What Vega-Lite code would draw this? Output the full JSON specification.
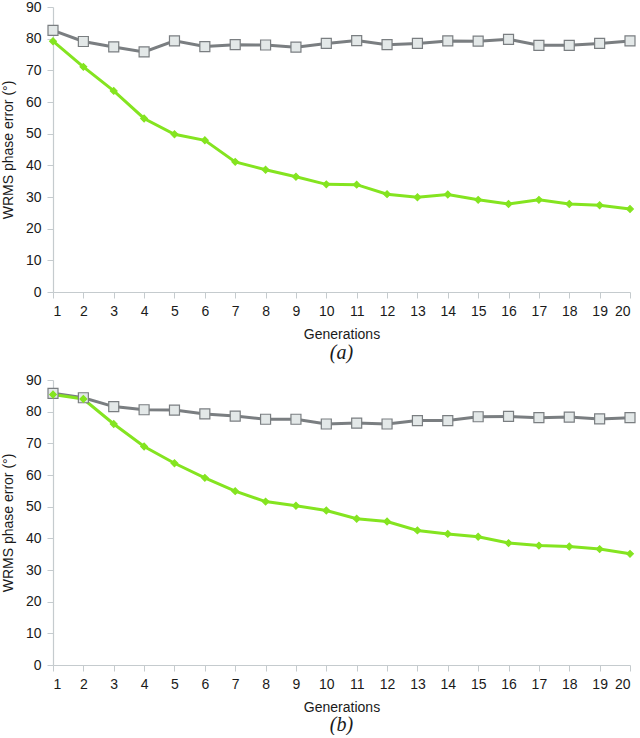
{
  "$schema": "https://vega.github.io/schema/vega-lite/v6.json",
  "padding": {"left": 1, "top": 0, "right": 5, "bottom": 0},
  "background": "white",
  "spacing": 10,
  "config": {
    "view": {"stroke": null},
    "font": "Liberation Sans",
    "axis": {
      "grid": false,
      "domainColor": "#c5cbce",
      "tickColor": "#c5cbce",
      "domainWidth": 1.2,
      "tickSize": 6,
      "labelFont": "Liberation Sans",
      "labelFontSize": 14,
      "labelColor": "#1a1a1a",
      "titleFont": "Liberation Sans",
      "titleFontSize": 14,
      "titleFontWeight": "normal",
      "titleColor": "#1a1a1a"
    }
  },
  "datasets": {
    "errors": [
      {"panel": "a", "gen": 1, "series": "Reference", "value": 82.6},
      {"panel": "a", "gen": 2, "series": "Reference", "value": 79.1},
      {"panel": "a", "gen": 3, "series": "Reference", "value": 77.4},
      {"panel": "a", "gen": 4, "series": "Reference", "value": 75.8},
      {"panel": "a", "gen": 5, "series": "Reference", "value": 79.3},
      {"panel": "a", "gen": 6, "series": "Reference", "value": 77.5},
      {"panel": "a", "gen": 7, "series": "Reference", "value": 78.1},
      {"panel": "a", "gen": 8, "series": "Reference", "value": 78.0},
      {"panel": "a", "gen": 9, "series": "Reference", "value": 77.3},
      {"panel": "a", "gen": 10, "series": "Reference", "value": 78.5},
      {"panel": "a", "gen": 11, "series": "Reference", "value": 79.4},
      {"panel": "a", "gen": 12, "series": "Reference", "value": 78.1},
      {"panel": "a", "gen": 13, "series": "Reference", "value": 78.5},
      {"panel": "a", "gen": 14, "series": "Reference", "value": 79.3},
      {"panel": "a", "gen": 15, "series": "Reference", "value": 79.2},
      {"panel": "a", "gen": 16, "series": "Reference", "value": 79.8},
      {"panel": "a", "gen": 17, "series": "Reference", "value": 77.9},
      {"panel": "a", "gen": 18, "series": "Reference", "value": 77.9},
      {"panel": "a", "gen": 19, "series": "Reference", "value": 78.5},
      {"panel": "a", "gen": 20, "series": "Reference", "value": 79.3},
      {"panel": "a", "gen": 1, "series": "Evolved", "value": 79.2},
      {"panel": "a", "gen": 2, "series": "Evolved", "value": 71.1},
      {"panel": "a", "gen": 3, "series": "Evolved", "value": 63.5},
      {"panel": "a", "gen": 4, "series": "Evolved", "value": 54.8},
      {"panel": "a", "gen": 5, "series": "Evolved", "value": 49.8},
      {"panel": "a", "gen": 6, "series": "Evolved", "value": 47.9},
      {"panel": "a", "gen": 7, "series": "Evolved", "value": 41.1},
      {"panel": "a", "gen": 8, "series": "Evolved", "value": 38.6},
      {"panel": "a", "gen": 9, "series": "Evolved", "value": 36.4},
      {"panel": "a", "gen": 10, "series": "Evolved", "value": 34.0},
      {"panel": "a", "gen": 11, "series": "Evolved", "value": 33.9},
      {"panel": "a", "gen": 12, "series": "Evolved", "value": 30.9},
      {"panel": "a", "gen": 13, "series": "Evolved", "value": 29.9},
      {"panel": "a", "gen": 14, "series": "Evolved", "value": 30.8},
      {"panel": "a", "gen": 15, "series": "Evolved", "value": 29.1},
      {"panel": "a", "gen": 16, "series": "Evolved", "value": 27.8},
      {"panel": "a", "gen": 17, "series": "Evolved", "value": 29.1},
      {"panel": "a", "gen": 18, "series": "Evolved", "value": 27.8},
      {"panel": "a", "gen": 19, "series": "Evolved", "value": 27.4},
      {"panel": "a", "gen": 20, "series": "Evolved", "value": 26.2},
      {"panel": "b", "gen": 1, "series": "Reference", "value": 85.8},
      {"panel": "b", "gen": 2, "series": "Reference", "value": 84.4},
      {"panel": "b", "gen": 3, "series": "Reference", "value": 81.6},
      {"panel": "b", "gen": 4, "series": "Reference", "value": 80.6},
      {"panel": "b", "gen": 5, "series": "Reference", "value": 80.5},
      {"panel": "b", "gen": 6, "series": "Reference", "value": 79.3},
      {"panel": "b", "gen": 7, "series": "Reference", "value": 78.6},
      {"panel": "b", "gen": 8, "series": "Reference", "value": 77.6},
      {"panel": "b", "gen": 9, "series": "Reference", "value": 77.6},
      {"panel": "b", "gen": 10, "series": "Reference", "value": 76.1},
      {"panel": "b", "gen": 11, "series": "Reference", "value": 76.4},
      {"panel": "b", "gen": 12, "series": "Reference", "value": 76.1},
      {"panel": "b", "gen": 13, "series": "Reference", "value": 77.2},
      {"panel": "b", "gen": 14, "series": "Reference", "value": 77.2},
      {"panel": "b", "gen": 15, "series": "Reference", "value": 78.4},
      {"panel": "b", "gen": 16, "series": "Reference", "value": 78.5},
      {"panel": "b", "gen": 17, "series": "Reference", "value": 78.1},
      {"panel": "b", "gen": 18, "series": "Reference", "value": 78.3},
      {"panel": "b", "gen": 19, "series": "Reference", "value": 77.7},
      {"panel": "b", "gen": 20, "series": "Reference", "value": 78.1},
      {"panel": "b", "gen": 1, "series": "Evolved", "value": 85.4},
      {"panel": "b", "gen": 2, "series": "Evolved", "value": 84.0},
      {"panel": "b", "gen": 3, "series": "Evolved", "value": 76.1},
      {"panel": "b", "gen": 4, "series": "Evolved", "value": 69.0},
      {"panel": "b", "gen": 5, "series": "Evolved", "value": 63.7},
      {"panel": "b", "gen": 6, "series": "Evolved", "value": 59.1},
      {"panel": "b", "gen": 7, "series": "Evolved", "value": 54.9},
      {"panel": "b", "gen": 8, "series": "Evolved", "value": 51.6},
      {"panel": "b", "gen": 9, "series": "Evolved", "value": 50.3},
      {"panel": "b", "gen": 10, "series": "Evolved", "value": 48.8},
      {"panel": "b", "gen": 11, "series": "Evolved", "value": 46.2},
      {"panel": "b", "gen": 12, "series": "Evolved", "value": 45.3},
      {"panel": "b", "gen": 13, "series": "Evolved", "value": 42.5},
      {"panel": "b", "gen": 14, "series": "Evolved", "value": 41.4},
      {"panel": "b", "gen": 15, "series": "Evolved", "value": 40.5},
      {"panel": "b", "gen": 16, "series": "Evolved", "value": 38.5},
      {"panel": "b", "gen": 17, "series": "Evolved", "value": 37.7},
      {"panel": "b", "gen": 18, "series": "Evolved", "value": 37.4},
      {"panel": "b", "gen": 19, "series": "Evolved", "value": 36.6},
      {"panel": "b", "gen": 20, "series": "Evolved", "value": 35.1}
    ]
  },
  "vconcat": [
    {
      "width": 577,
      "height": 285,
      "data": {"name": "errors"},
      "transform": [{"filter": "datum.panel == 'a'"}],
      "title": {"text": "(a)", "orient": "bottom", "anchor": "middle", "font": "Liberation Serif", "fontStyle": "italic", "fontWeight": "normal", "fontSize": 20, "color": "#1a1a1a", "offset": 2},
      "encoding": {
        "x": {"field": "gen", "type": "quantitative", "scale": {"domain": [1, 20], "nice": false, "zero": false}, "axis": {"values": [1,2,3,4,5,6,7,8,9,10,11,12,13,14,15,16,17,18,19,20], "title": "Generations", "labelPadding": 6, "titlePadding": 9}},
        "y": {"field": "value", "type": "quantitative", "scale": {"domain": [0, 90], "nice": false}, "axis": {"values": [0,10,20,30,40,50,60,70,80,90], "title": "WRMS phase error (°)", "labelPadding": 6, "titlePadding": 10}}
      },
      "layer": [
        {
          "mark": {"type": "line", "strokeWidth": 3},
          "encoding": {
            "color": {"field": "series", "type": "nominal", "scale": {"domain": ["Evolved", "Reference"], "range": ["#84e420", "#7a7e81"]}, "legend": null}
          }
        },
        {
          "mark": {"type": "point", "filled": true, "strokeWidth": 1.2, "opacity": 1},
          "encoding": {
            "shape": {"field": "series", "type": "nominal", "scale": {"domain": ["Evolved", "Reference"], "range": ["diamond", "square"]}, "legend": null},
            "fill": {"field": "series", "type": "nominal", "scale": {"domain": ["Evolved", "Reference"], "range": ["#84e420", "#e3e8e8"]}, "legend": null},
            "stroke": {"field": "series", "type": "nominal", "scale": {"domain": ["Evolved", "Reference"], "range": ["#84e420", "#7a7e81"]}, "legend": null},
            "size": {"field": "series", "type": "nominal", "scale": {"domain": ["Evolved", "Reference"], "range": [45, 100]}, "legend": null}
          }
        }
      ]
    },
    {
      "width": 577,
      "height": 285,
      "data": {"name": "errors"},
      "transform": [{"filter": "datum.panel == 'b'"}],
      "title": {"text": "(b)", "orient": "bottom", "anchor": "middle", "font": "Liberation Serif", "fontStyle": "italic", "fontWeight": "normal", "fontSize": 20, "color": "#1a1a1a", "offset": 1},
      "encoding": {
        "x": {"field": "gen", "type": "quantitative", "scale": {"domain": [1, 20], "nice": false, "zero": false}, "axis": {"values": [1,2,3,4,5,6,7,8,9,10,11,12,13,14,15,16,17,18,19,20], "title": "Generations", "labelPadding": 6, "titlePadding": 9}},
        "y": {"field": "value", "type": "quantitative", "scale": {"domain": [0, 90], "nice": false}, "axis": {"values": [0,10,20,30,40,50,60,70,80,90], "title": "WRMS phase error (°)", "labelPadding": 6, "titlePadding": 10}}
      },
      "layer": [
        {
          "mark": {"type": "line", "strokeWidth": 3},
          "encoding": {
            "color": {"field": "series", "type": "nominal", "scale": {"domain": ["Evolved", "Reference"], "range": ["#84e420", "#7a7e81"]}, "legend": null}
          }
        },
        {
          "mark": {"type": "point", "filled": true, "strokeWidth": 1.2, "opacity": 1},
          "encoding": {
            "shape": {"field": "series", "type": "nominal", "scale": {"domain": ["Evolved", "Reference"], "range": ["diamond", "square"]}, "legend": null},
            "fill": {"field": "series", "type": "nominal", "scale": {"domain": ["Evolved", "Reference"], "range": ["#84e420", "#e3e8e8"]}, "legend": null},
            "stroke": {"field": "series", "type": "nominal", "scale": {"domain": ["Evolved", "Reference"], "range": ["#84e420", "#7a7e81"]}, "legend": null},
            "size": {"field": "series", "type": "nominal", "scale": {"domain": ["Evolved", "Reference"], "range": [45, 100]}, "legend": null}
          }
        }
      ]
    }
  ]
}
